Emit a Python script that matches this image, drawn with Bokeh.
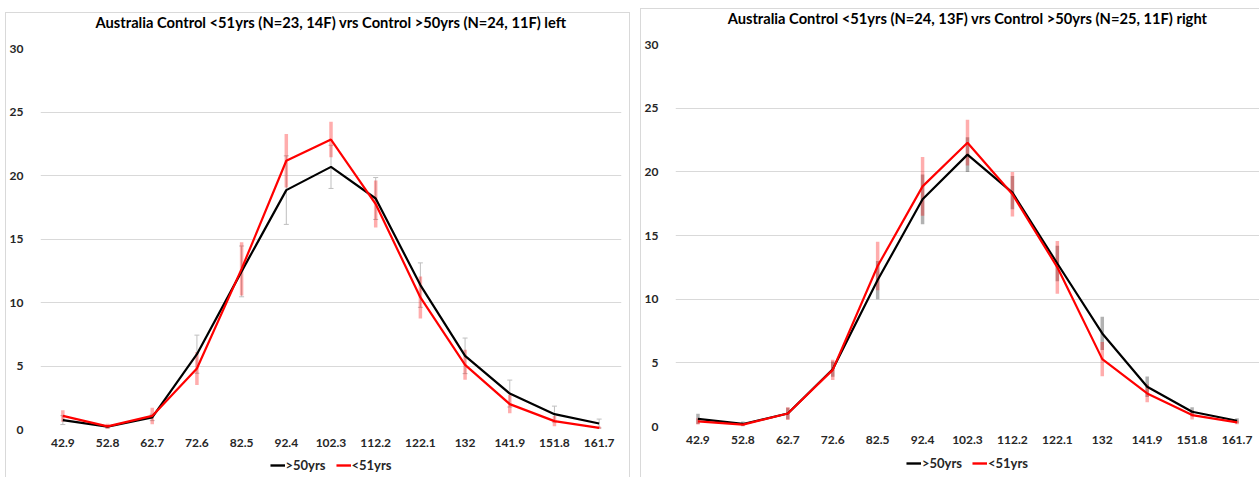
from bokeh.plotting import figure
from bokeh.models import (ColumnDataSource, FactorRange, Range1d, Whisker, TeeHead,
                          Legend, LegendItem, FixedTicker, Label)
from bokeh.layouts import row, column
from bokeh.embed import file_html
from bokeh.resources import INLINE

cats = ["42.9", "52.8", "62.7", "72.6", "82.5", "92.4", "102.3", "112.2",
        "122.1", "132", "141.9", "151.8", "161.7"]

left_title = "Australia Control <51yrs (N=23, 14F) vrs Control >50yrs (N=24, 11F) left"
right_title = "Australia Control <51yrs (N=24, 13F) vrs Control >50yrs (N=25, 11F) right"

left_over50 = [0.74, 0.22, 0.95, 5.93, 12.45, 18.85, 20.68, 18.19, 11.37, 5.8, 2.83, 1.21, 0.47]
left_over50_err = [0.35, 0.1, 0.25, 1.5, 2.0, 2.7, 1.7, 1.65, 1.75, 1.4, 1.06, 0.63, 0.35]
left_under51 = [1.07, 0.25, 1.07, 4.8, 12.65, 21.16, 22.83, 17.75, 10.4, 5.09, 2.0, 0.66, 0.13]
left_under51_err = [0.45, 0.2, 0.65, 1.3, 2.1, 2.1, 1.4, 1.85, 1.65, 1.18, 0.72, 0.4, 0.1]

right_over50 = [0.6, 0.2, 1.02, 4.5, 11.5, 17.84, 21.35, 18.37, 12.8, 7.31, 3.12, 1.16, 0.45]
right_over50_err = [0.4, 0.2, 0.45, 0.6, 1.5, 1.95, 1.36, 1.3, 1.4, 1.3, 0.8, 0.35, 0.2]
right_under51 = [0.4, 0.15, 1.02, 4.45, 12.6, 18.86, 22.29, 18.24, 12.5, 5.29, 2.6, 0.9, 0.33]
right_under51_err = [0.25, 0.1, 0.5, 0.8, 1.9, 2.3, 1.8, 1.75, 2.07, 1.35, 0.7, 0.35, 0.15]

series_labels = [">50yrs", "<51yrs"]
series_colors = ["#000000", "#ff0000"]
y_ticks = [0, 5, 10, 15, 20, 25, 30]

FONT = "Lato"
TXT = "#262626"


def strip(width, height):
    q = figure(width=width, height=height, output_backend="svg", toolbar_location=None,
               x_range=Range1d(0, 1), y_range=Range1d(0, 1), min_border=0,
               x_axis_location=None, y_axis_location=None)
    q.outline_line_color = None
    q.grid.visible = False
    q.border_fill_color = "white"
    q.background_fill_color = "white"
    return q


def make_chart(title, over, over_err, under, under_err, width, title_h, title_y,
               chart_h, leg_h, mb_left, mb_right, mb_top, mb_bottom, margin, thick_black):
    # title strip
    t = strip(width, title_h)
    t.add_layout(Label(x=0.5, y=title_y, text=title, text_align="center",
                       text_baseline="middle", text_font=FONT, text_font_style="bold",
                       text_font_size="14.7px", text_color="#000000"))

    p = figure(x_range=FactorRange(*cats, range_padding=0), y_range=Range1d(0, 30),
               width=width, height=chart_h, output_backend="svg", toolbar_location=None,
               min_border_left=mb_left, min_border_right=mb_right,
               min_border_top=mb_top, min_border_bottom=mb_bottom)
    p.outline_line_color = None
    p.background_fill_color = "white"
    p.border_fill_color = "white"

    p.xgrid.visible = False
    p.ygrid.grid_line_color = "#d9d9d9"
    p.ygrid.grid_line_width = 1
    p.yaxis.ticker = FixedTicker(ticks=y_ticks)
    for ax in (p.xaxis, p.yaxis):
        ax.axis_line_color = None
        ax.major_tick_line_color = None
        ax.minor_tick_line_color = None
        ax.major_label_text_font = FONT
        ax.major_label_text_font_style = "bold"
        ax.major_label_text_font_size = "12px"
        ax.major_label_text_color = TXT
    p.yaxis.major_label_standoff = 11
    p.xaxis.major_label_standoff = 3

    o_up = [v + e for v, e in zip(over, over_err)]
    o_lo = [v - e for v, e in zip(over, over_err)]
    u_up = [v + e for v, e in zip(under, under_err)]
    u_lo = [v - e for v, e in zip(under, under_err)]
    src = ColumnDataSource(dict(x=cats, over=over, under=under,
                                o_up=o_up, o_lo=o_lo, u_up=u_up, u_lo=u_lo))

    if thick_black:
        wb = Whisker(base="x", upper="o_up", lower="o_lo", source=src,
                     line_color="#000000", line_alpha=0.3, line_width=3.5,
                     upper_head=None, lower_head=None)
    else:
        wb = Whisker(base="x", upper="o_up", lower="o_lo", source=src,
                     line_color="#bfbfbf", line_width=1,
                     upper_head=TeeHead(size=5, line_color="#bfbfbf", line_width=1),
                     lower_head=TeeHead(size=5, line_color="#bfbfbf", line_width=1))
    wr = Whisker(base="x", upper="u_up", lower="u_lo", source=src,
                 line_color="#ff0000", line_alpha=0.32, line_width=3.5,
                 upper_head=None, lower_head=None)
    p.add_layout(wb)
    p.add_layout(wr)

    p.line("x", "over", source=src, line_color=series_colors[0], line_width=2.2)
    p.line("x", "under", source=src, line_color=series_colors[1], line_width=2.2)

    # legend strip under the chart (sample renderers sit outside the strip's view)
    q = strip(width, leg_h)
    rs = [q.line(x=[5, 6], y=[5, 6], line_color=c, line_width=2.4) for c in series_colors]
    leg = Legend(items=[LegendItem(label=lab, renderers=[r])
                        for lab, r in zip(series_labels, rs)],
                 orientation="horizontal", location="center",
                 label_text_font=FONT, label_text_font_style="bold",
                 label_text_font_size="13px", label_text_color=TXT,
                 glyph_width=15, glyph_height=14, label_standoff=1, spacing=10,
                 padding=0, margin=0, border_line_color=None,
                 background_fill_alpha=0, label_height=14)
    q.add_layout(leg)
    return column(t, p, q, spacing=0, margin=margin,
                  styles={"border": "1px solid #d9d9d9"})


left = make_chart(left_title, left_over50, left_over50_err, left_under51, left_under51_err,
                  width=623, title_h=23, title_y=0.64, chart_h=415, leg_h=27,
                  mb_left=27, mb_right=8, mb_top=12, mb_bottom=22,
                  margin=(12, 0, 0, 5), thick_black=False)
right = make_chart(right_title, right_over50, right_over50_err, right_under51, right_under51_err,
                   width=621, title_h=23, title_y=0.62, chart_h=416, leg_h=30,
                   mb_left=29, mb_right=3, mb_top=12, mb_bottom=22,
                   margin=(8, 0, 0, 10), thick_black=True)

layout = row(left, right, spacing=0)
open("out.html", "w").write(file_html(layout, INLINE))
